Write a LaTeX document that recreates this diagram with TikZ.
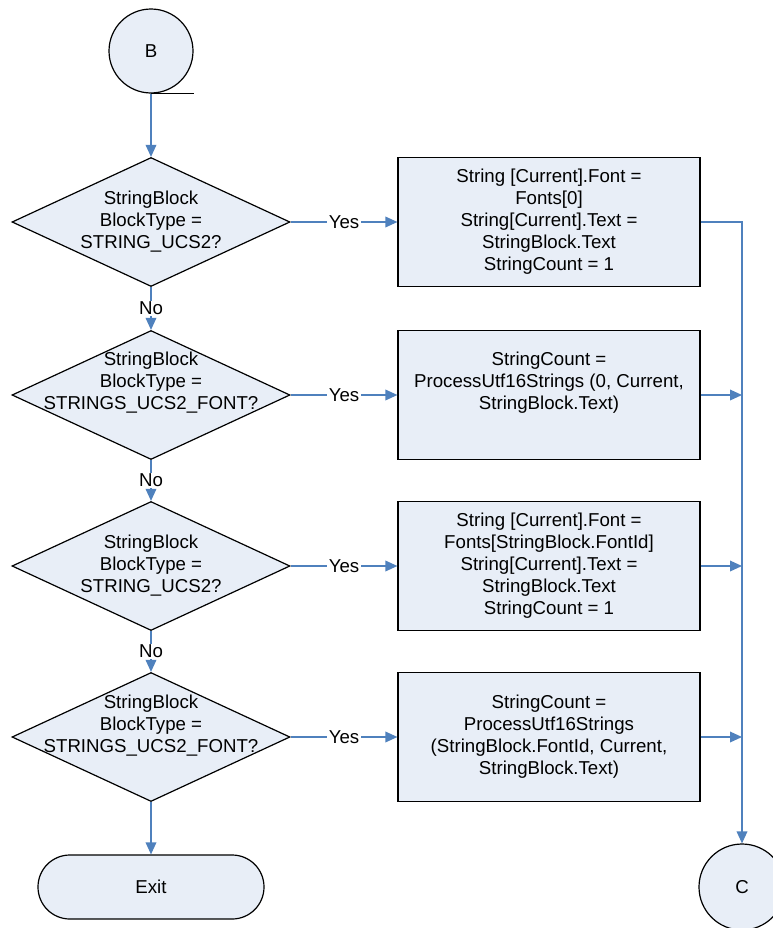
\documentclass[tikz,border=0pt]{standalone}
\usepackage{fontspec}
\setmainfont{Liberation Sans}
\usetikzlibrary{positioning, arrows.meta, shapes.geometric}
\definecolor{shapefill}{RGB}{232,238,247}
\definecolor{flowcol}{RGB}{79,129,189}
\tikzset{
  txt/.style={font=\fontsize{14}{16.5}\selectfont, align=center, inner sep=0pt},
  decision/.style={diamond, draw=black, fill=shapefill, line width=0.9pt,
                   minimum width=208.5pt, minimum height=96.75pt, inner sep=0pt},
  procbox/.style={rectangle, draw=black, fill=shapefill, line width=0.9pt,
                  minimum width=226.5pt, minimum height=96.75pt, txt},
  terminal/.style={rectangle, rounded corners=23.9pt, draw=black, fill=shapefill,
                   line width=0.9pt, minimum width=169.5pt, minimum height=48pt, txt},
  connector/.style={circle, draw=black, fill=shapefill, line width=0.9pt,
                    minimum size=63pt, txt},
  flow/.style={-{Triangle[length=9pt, width=8pt]}, line width=1pt, flowcol},
  branch/.style={txt, text=black, fill=white, inner sep=1pt},
}
\begin{document}
\begin{tikzpicture}[x=0.75pt, y=-0.75pt]
    \useasboundingbox (0,0) rectangle (772,928);

    \node[connector] (bb) at (151,51) {B};
    \draw[line width=0.9pt] (bb.south) -- ++(43,0);

    % decisions
    \node[decision] (d1) at (151,222) {};
    \node[txt] at (151,222) {StringBlock\\BlockType =\\STRING\_UCS2?};
    \node[decision] (d2) at (151,395) {};
    \node[txt] at (151,383) {StringBlock\\BlockType =\\STRINGS\_UCS2\_FONT?};
    \node[decision] (d3) at (151,566) {};
    \node[txt] at (151,566) {StringBlock\\BlockType =\\STRING\_UCS2?};
    \node[decision] (d4) at (151,737) {};
    \node[txt] at (151,726) {StringBlock\\BlockType =\\STRINGS\_UCS2\_FONT?};

    % actions
    \node[procbox] (p1) at (549,222) {String [Current].Font =\\Fonts[0]\\String[Current].Text =\\StringBlock.Text\\StringCount = 1};
    \node[procbox] (p2) at (549,395) {};
    \node[txt] at (549,383) {StringCount =\\ProcessUtf16Strings (0, Current,\\StringBlock.Text)};
    \node[procbox] (p3) at (549,566) {String [Current].Font =\\Fonts[StringBlock.FontId]\\String[Current].Text =\\StringBlock.Text\\StringCount = 1};
    \node[procbox] (p4) at (549,737) {StringCount =\\ProcessUtf16Strings\\(StringBlock.FontId, Current,\\StringBlock.Text)};

    \node[terminal] (exit) at (151,887) {Exit};
    \node[connector, minimum size=64.5pt] (cc) at (742,887) {C};

    % flow
    \draw[flow] (bb.south) -- (d1.north);
    \draw[flow] (d1.south) -- node[branch] {No} (d2.north);
    \draw[flow] (d2.south) -- node[branch] {No} (d3.north);
    \draw[flow] (d3.south) -- node[branch] {No} (d4.north);
    \draw[flow] (d4.south) -- (exit.north);
    \draw[flow] (d1.east) -- node[branch] {Yes} (p1.west);
    \draw[flow] (d2.east) -- node[branch] {Yes} (p2.west);
    \draw[flow] (d3.east) -- node[branch] {Yes} (p3.west);
    \draw[flow] (d4.east) -- node[branch] {Yes} (p4.west);
    \draw[flow] (p1.east) -| (cc.north);
    \draw[flow] (p2.east) -- (p2.east -| cc.north);
    \draw[flow] (p3.east) -- (p3.east -| cc.north);
    \draw[flow] (p4.east) -- (p4.east -| cc.north);
\end{tikzpicture}
\end{document}
